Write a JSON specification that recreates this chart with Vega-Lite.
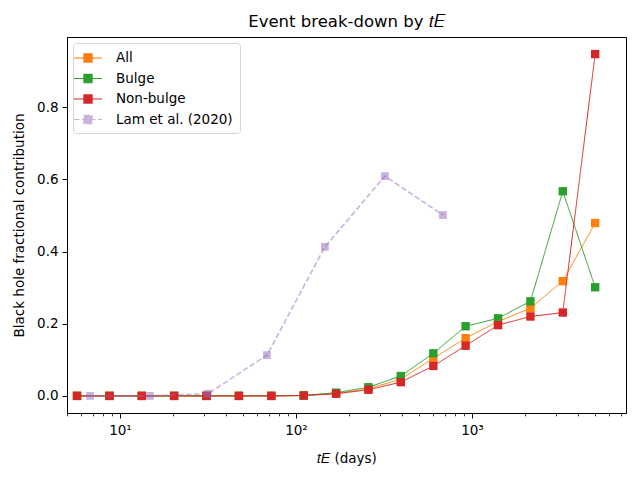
{
  "$schema": "https://vega.github.io/schema/vega-lite/v6.json",
  "width": 559,
  "height": 376,
  "autosize": {"type": "none"},
  "padding": {"left": 67, "top": 37, "right": 14, "bottom": 67},
  "title": {
    "text": "Event break-down by 𝑡𝐸",
    "font": "DejaVu Sans",
    "fontSize": 16.5,
    "fontWeight": "normal",
    "color": "black",
    "offset": 7
  },
  "data": {
    "values": [
      {"series": "All", "t": 5.70, "frac": 0},
      {"series": "All", "t": 8.71, "frac": 0},
      {"series": "All", "t": 13.3, "frac": 0},
      {"series": "All", "t": 20.3, "frac": 0},
      {"series": "All", "t": 31.0, "frac": 0},
      {"series": "All", "t": 47.4, "frac": 0},
      {"series": "All", "t": 72.4, "frac": 0},
      {"series": "All", "t": 110.7, "frac": 0.001},
      {"series": "All", "t": 169, "frac": 0.007},
      {"series": "All", "t": 258, "frac": 0.020},
      {"series": "All", "t": 394, "frac": 0.046},
      {"series": "All", "t": 603, "frac": 0.104},
      {"series": "All", "t": 920, "frac": 0.160},
      {"series": "All", "t": 1406, "frac": 0.206},
      {"series": "All", "t": 2148, "frac": 0.243},
      {"series": "All", "t": 3281, "frac": 0.318},
      {"series": "All", "t": 5012, "frac": 0.479},
      {"series": "Bulge", "t": 5.70, "frac": 0},
      {"series": "Bulge", "t": 8.71, "frac": 0},
      {"series": "Bulge", "t": 13.3, "frac": 0},
      {"series": "Bulge", "t": 20.3, "frac": 0},
      {"series": "Bulge", "t": 31.0, "frac": 0},
      {"series": "Bulge", "t": 47.4, "frac": 0},
      {"series": "Bulge", "t": 72.4, "frac": 0},
      {"series": "Bulge", "t": 110.7, "frac": 0.001},
      {"series": "Bulge", "t": 169, "frac": 0.009},
      {"series": "Bulge", "t": 258, "frac": 0.024},
      {"series": "Bulge", "t": 394, "frac": 0.055},
      {"series": "Bulge", "t": 603, "frac": 0.118},
      {"series": "Bulge", "t": 920, "frac": 0.193},
      {"series": "Bulge", "t": 1406, "frac": 0.215},
      {"series": "Bulge", "t": 2148, "frac": 0.262},
      {"series": "Bulge", "t": 3281, "frac": 0.567},
      {"series": "Bulge", "t": 5012, "frac": 0.301},
      {"series": "Non-bulge", "t": 5.70, "frac": 0},
      {"series": "Non-bulge", "t": 8.71, "frac": 0},
      {"series": "Non-bulge", "t": 13.3, "frac": 0},
      {"series": "Non-bulge", "t": 20.3, "frac": 0},
      {"series": "Non-bulge", "t": 31.0, "frac": 0},
      {"series": "Non-bulge", "t": 47.4, "frac": 0},
      {"series": "Non-bulge", "t": 72.4, "frac": 0},
      {"series": "Non-bulge", "t": 110.7, "frac": 0.001},
      {"series": "Non-bulge", "t": 169, "frac": 0.006},
      {"series": "Non-bulge", "t": 258, "frac": 0.017},
      {"series": "Non-bulge", "t": 394, "frac": 0.038},
      {"series": "Non-bulge", "t": 603, "frac": 0.083},
      {"series": "Non-bulge", "t": 920, "frac": 0.139},
      {"series": "Non-bulge", "t": 1406, "frac": 0.196},
      {"series": "Non-bulge", "t": 2148, "frac": 0.220},
      {"series": "Non-bulge", "t": 3281, "frac": 0.231},
      {"series": "Non-bulge", "t": 5012, "frac": 0.947},
      {"series": "Lam et al. (2020)", "t": 6.76, "frac": 0},
      {"series": "Lam et al. (2020)", "t": 14.8, "frac": 0},
      {"series": "Lam et al. (2020)", "t": 31.6, "frac": 0.006},
      {"series": "Lam et al. (2020)", "t": 68.4, "frac": 0.113},
      {"series": "Lam et al. (2020)", "t": 146, "frac": 0.413},
      {"series": "Lam et al. (2020)", "t": 320, "frac": 0.609},
      {"series": "Lam et al. (2020)", "t": 684, "frac": 0.501}
    ]
  },
  "encoding": {
    "x": {
      "field": "t",
      "type": "quantitative",
      "scale": {"type": "log", "domain": [5.0, 7500], "nice": false},
      "axis": {
        "title": "𝑡𝐸 (days)",
        "values": [5, 6, 7, 8, 9, 10, 20, 30, 40, 50, 60, 70, 80, 90, 100, 200, 300, 400, 500, 600, 700, 800, 900, 1000, 2000, 3000, 4000, 5000, 6000, 7000],
        "labelExpr": "datum.value == 10 ? '10¹' : datum.value == 100 ? '10²' : datum.value == 1000 ? '10³' : ''",
        "tickSize": {"condition": {"test": "datum.value == 10 || datum.value == 100 || datum.value == 1000", "value": 4.9}, "value": 2.8},
        "tickWidth": {"condition": {"test": "datum.value == 10 || datum.value == 100 || datum.value == 1000", "value": 1}, "value": 0.8},
        "labelPadding": 6,
        "labelOverlap": false,
        "labelBound": false,
        "labelFlush": false,
        "titlePadding": 14
      }
    },
    "y": {
      "field": "frac",
      "type": "quantitative",
      "scale": {"domain": [-0.0474, 0.9944], "nice": false, "zero": false},
      "axis": {
        "title": "Black hole fractional contribution",
        "values": [0, 0.2, 0.4, 0.6, 0.8],
        "format": ".1f",
        "titlePadding": 10
      }
    },
    "color": {
      "field": "series",
      "type": "nominal",
      "scale": {
        "domain": ["All", "Bulge", "Non-bulge", "Lam et al. (2020)"],
        "range": ["#ff7f0e", "#2ca02c", "#d62728", "#9467bd"]
      },
      "legend": {
        "title": null,
        "orient": "top-left",
        "offset": 6,
        "symbolType": "M-2,0H2M-0.58,-0.58H0.58V0.58H-0.58Z",
        "symbolSize": 196,
        "symbolStrokeWidth": 1.2,
        "labelOffset": 20,
        "labelFont": "DejaVu Sans",
        "labelFontSize": 13.5,
        "labelColor": "black",
        "rowPadding": 5.5,
        "padding": 7,
        "strokeColor": "#d5d5d5",
        "fillColor": "white",
        "cornerRadius": 3,
        "encode": {
          "symbols": {
            "update": {
              "fill": {"scale": "color", "field": "value"},
              "opacity": {"signal": "datum.value === 'Lam et al. (2020)' ? 0.5 : 1"}
            }
          }
        }
      }
    },
    "strokeDash": {
      "field": "series",
      "type": "nominal",
      "scale": {
        "domain": ["All", "Bulge", "Non-bulge", "Lam et al. (2020)"],
        "range": [[1, 0], [1, 0], [1, 0], [5.5, 2.5]]
      },
      "legend": null
    }
  },
  "layer": [
    {
      "transform": [{"filter": "datum.series == 'All'"}],
      "mark": {"type": "line", "strokeWidth": 1, "point": {"shape": "square", "size": 70, "filled": true, "opacity": 1}}
    },
    {
      "transform": [{"filter": "datum.series == 'Bulge'"}],
      "mark": {"type": "line", "strokeWidth": 1, "point": {"shape": "square", "size": 70, "filled": true, "opacity": 1}}
    },
    {
      "transform": [{"filter": "datum.series == 'Non-bulge'"}],
      "mark": {"type": "line", "strokeWidth": 1, "point": {"shape": "square", "size": 70, "filled": true, "opacity": 1}}
    },
    {
      "transform": [{"filter": "datum.series == 'Lam et al. (2020)'"}],
      "mark": {"type": "line", "strokeWidth": 1.6, "opacity": 0.5, "point": {"shape": "square", "size": 60, "filled": true, "opacity": 0.5}}
    }
  ],
  "config": {
    "font": "DejaVu Sans",
    "view": {"stroke": "black", "strokeWidth": 1},
    "axis": {
      "grid": false,
      "domainColor": "black",
      "tickColor": "black",
      "tickSize": 4.9,
      "labelPadding": 4,
      "labelFont": "DejaVu Sans",
      "labelFontSize": 13.5,
      "labelColor": "black",
      "titleFont": "DejaVu Sans",
      "titleFontSize": 13.5,
      "titleFontWeight": "normal",
      "titleColor": "black"
    }
  }
}
